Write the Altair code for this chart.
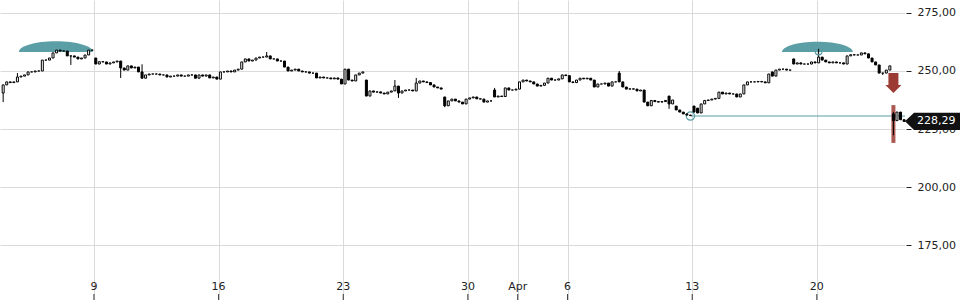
import altair as alt
import pandas as pd
from datetime import date, timedelta

# ---------------- data (hourly candles, 7 per trading day) ----------------
first_open = 240.5
closes_mar03 = [244.0, 245.3, 245.0, 245.3, 247.4, 247.8, 248.3, 249.6, 249.6, 250.0,
                250.0, 254.7, 254.7, 255.6, 257.8, 259.0, 258.6, 258.6, 256.5, 256.5,
                256.0, 255.2, 255.6, 256.9, 259.0, 259.0]
closes_mar09 = [253.0, 254.0, 253.9, 253.0, 253.5, 253.9, 254.3, 251.3, 250.4, 252.2,
                251.3, 251.7, 249.6, 246.9, 248.3, 248.7, 248.7, 248.7, 248.3, 248.3,
                247.4, 247.8, 247.8, 248.3, 247.8, 247.8, 248.3, 248.3, 246.9, 248.3,
                247.8, 248.3, 247.0, 247.4, 246.5]
closes_mar16 = [249.6, 249.6, 250.0, 249.6, 250.4, 250.8, 253.9, 255.2, 254.3, 254.7,
                255.6, 256.0, 256.0, 256.5, 255.2, 255.2, 254.3, 254.3, 251.7, 250.0,
                250.4, 250.8, 250.0, 249.6, 249.6, 249.1, 249.1, 247.0, 247.4, 247.0,
                247.0, 246.6, 247.0, 246.5, 244.4]
closes_mar23 = [250.8, 246.1, 245.7, 248.3, 249.1, 249.6, 239.2, 241.4, 240.9, 241.0,
                240.5, 240.1, 240.9, 241.4, 243.5, 240.5, 241.4, 241.8, 241.8, 241.4,
                244.8, 245.7, 245.3, 245.0, 244.0, 243.1, 242.7, 242.2, 235.0, 237.1,
                237.9, 237.1, 236.6, 235.8, 237.9]
closes_mar30 = [238.4, 238.8, 238.0, 237.9, 236.6, 237.1, 237.1, 238.8, 239.2, 239.0,
                242.7, 241.8, 241.8, 242.2, 245.3, 246.1, 245.7, 245.3, 244.4, 243.5,
                243.8, 244.8, 246.9, 246.1, 246.1, 246.6, 248.3, 248.0]
closes_apr06 = [245.3, 245.0, 246.1, 246.9, 246.6, 246.9, 246.1, 243.1, 244.4, 244.4,
                244.8, 243.5, 245.3, 245.3, 245.3, 243.1, 242.2, 242.3, 242.2, 241.4,
                241.8, 236.6, 235.0, 237.3, 236.8, 236.6, 236.8, 237.3, 235.8, 237.5,
                233.2, 232.3, 231.5, 231.0, 230.8]
closes_apr13 = [232.3, 231.9, 235.8, 237.3, 237.5, 237.9, 238.2, 240.9, 240.1, 240.5,
                240.1, 240.1, 238.8, 240.1, 244.0, 245.3, 245.3, 245.3, 245.5, 245.3,
                244.9, 248.7, 247.8, 250.4, 250.8, 250.8, 250.4, 250.4, 253.0, 253.5,
                253.0, 253.0, 253.0, 253.9, 253.5]
closes_apr20 = [256.0, 254.7, 253.9, 253.5, 253.9, 253.5, 253.5, 253.0, 256.5, 257.0,
                256.9, 256.9, 257.8, 257.4, 255.6, 253.9, 252.6, 249.1, 249.1, 250.4,
                252.2, 228.6, 232.3, 229.0, 228.29]

gap_opens = {26: 255.6, 102: 246.1, 124: 238.8, 138: 241.8, 173: 249.1, 187: 239.2,
             189: 234.9, 194: 234.9, 195: 234.0, 216: 249.6, 222: 255.2, 250: 231.5}
wick_highs = {4: 249.1, 39: 252.9, 74: 258.2, 110: 246.1, 116: 247.0, 138: 242.7,
              173: 250.0, 229: 259.9, 250: 232.3}
wick_lows = {0: 236.6, 19: 252.6, 33: 247.0, 111: 238.4, 124: 234.4, 187: 233.7,
             193: 230.6, 247: 248.3, 250: 222.3}

# annotations
dome_start = [4.4, 218.7]
dome_end = [25.2, 238.6]
dome_base = [258.2, 258.2]
support_bar = 193
support_price = 230.6
peak_bar = 229
peak_marker_price = 258.4
gap_bar = 250
gap_band_top = 235.3
gap_band_bottom = 219.0
arrow_price = 244.8

holidays = [date(2015, 4, 3)]
first_day = date(2015, 3, 3)
last_day = date(2015, 4, 23)
bars_per_day = 7
first_bar_slot = 2

# ---------------- build tables ----------------
closes = (closes_mar03 + closes_mar09 + closes_mar16 + closes_mar23 +
          closes_mar30 + closes_apr06 + closes_apr13 + closes_apr20)
n = len(closes)
opens = [first_open] + closes[:-1]
for k, v in gap_opens.items():
    opens[k] = v
highs = [max(o, c) for o, c in zip(opens, closes)]
lows = [min(o, c) for o, c in zip(opens, closes)]
for k, v in wick_highs.items():
    highs[k] = max(highs[k], v)
for k, v in wick_lows.items():
    lows[k] = min(lows[k], v)

candles = pd.DataFrame({
    "i": list(range(n)), "open": opens, "close": closes, "high": highs, "low": lows,
    "fill": ["white" if c > o else "black" for o, c in zip(opens, closes)],
})

days = []
d = first_day
while d <= last_day:
    if d.weekday() < 5 and d not in holidays:
        days.append(d)
    d += timedelta(days=1)
tick_pos, tick_lab = [], []
for k, day in enumerate(days):
    if k == 0:
        continue
    if day.weekday() == 0 or day.month != days[k - 1].month:
        tick_pos.append(k * bars_per_day - first_bar_slot - 0.5)
        tick_lab.append("Apr" if day.month != days[k - 1].month else str(day.day))
ticks = pd.DataFrame({"pos": tick_pos, "label": tick_lab})

W, H = 905, 300
PX_PER_BAR = 3.561
x_dom = [-0.89, -0.89 + W / PX_PER_BAR]
y_dom = [151.3, 280.6]
xs = alt.Scale(domain=x_dom, nice=False, zero=False, padding=0)
ys = alt.Scale(domain=y_dom, nice=False, zero=False, padding=0)

TEAL = "#5b9ea5"
RED = "#9c3a34"
FONT = "DejaVu Sans"

XAX = alt.Axis(values=tick_pos, labels=False, ticks=False, domain=False,
               grid=True, gridColor="#dadada", title=None)
YAX = alt.Axis(orient="right", values=[175, 200, 225, 250, 275],
               labelExpr="replace(format(datum.value, '.2f'), '.', ',')",
               grid=True, gridColor="#dadada", domain=False,
               tickColor="#222", tickSize=5, offset=1, labelPadding=6,
               labelFont=FONT, labelFontSize=11, labelColor="#222", title=None)


def X(field):
    return alt.X(field, scale=xs, axis=XAX)


def Y(field):
    return alt.Y(field, scale=ys, axis=YAX)


domes = pd.DataFrame({
    "c": [(a + b) / 2 for a, b in zip(dome_start, dome_end)],
    "base": dome_base,
    "sz": [((b - a) * PX_PER_BAR) ** 2 for a, b in zip(dome_start, dome_end)],
})
dome_path = "M -1 0 C -1 -0.16 -0.552 -0.29 0 -0.29 C 0.552 -0.29 1 -0.16 1 0 Z"

base = alt.Chart(candles)

dome_layer = alt.Chart(domes).mark_point(shape=dome_path, filled=True, fill=TEAL,
                                         opacity=1, strokeWidth=0).encode(
    x=X("c:Q"), y=Y("base:Q"),
    size=alt.Size("sz:Q", scale=None, legend=None),
)

sup = pd.DataFrame({"x": [support_bar], "x2": [x_dom[1]], "y": [support_price]})
sup_line = alt.Chart(sup).mark_rule(color=TEAL, strokeWidth=1).encode(
    x=X("x:Q"), x2="x2:Q", y=Y("y:Q"))
sup_circle = alt.Chart(sup).mark_point(shape="circle", size=70, filled=False,
                                       color=TEAL, strokeWidth=1.2, opacity=1).encode(
    x=X("x:Q"), y=Y("y:Q"))

peak = pd.DataFrame({"x": [peak_bar], "y": [peak_marker_price]})
peak_circle = alt.Chart(peak).mark_point(shape="circle", size=45, filled=False,
                                         color=TEAL, strokeWidth=1.2, opacity=1).encode(
    x=X("x:Q"), y=Y("y:Q"))

gap = pd.DataFrame({"x": [gap_bar], "top": [gap_band_top], "bot": [gap_band_bottom],
                    "arrow": [arrow_price]})
gap_band = alt.Chart(gap).mark_rule(color="#a2463f", strokeWidth=4, opacity=0.9).encode(
    x=X("x:Q"), y=Y("top:Q"), y2="bot:Q")
arrow_path = "M -0.5 -1 L 0.5 -1 L 0.5 0.2 L 0.8 0.2 L 0 1 L -0.8 0.2 L -0.5 0.2 Z"
gap_arrow = alt.Chart(gap).mark_point(shape=arrow_path, size=400, filled=True, fill=RED,
                                      strokeWidth=0, opacity=1).encode(
    x=X("x:Q"), y=Y("arrow:Q"))

wicks = base.mark_rule(color="black", strokeWidth=1).encode(
    x=X("i:Q"), y=Y("low:Q"), y2="high:Q")
bodies = base.mark_bar(width=2, stroke="black", strokeWidth=1).encode(
    x=X("i:Q"), y=Y("open:Q"), y2="close:Q",
    fill=alt.Fill("fill:N", scale=None))

last = pd.DataFrame({"y": [closes[-1]],
                     "txt": [f"{closes[-1]:.2f}".replace(".", ",")]})
box_path = "M 0 0 L 0.9 -0.87 L 5.5 -0.87 L 5.5 0.87 L 0.9 0.87 Z"
last_box = alt.Chart(last).mark_point(shape=box_path, size=400, filled=True,
                                      fill="#111111", strokeWidth=0, opacity=1).encode(
    x=alt.value(W), y=Y("y:Q"))
last_txt = alt.Chart(last).mark_text(align="left", baseline="middle", dx=12,
                                     color="white", font=FONT, fontSize=11).encode(
    x=alt.value(W), y=Y("y:Q"), text="txt:N")

xlabels = alt.Chart(ticks).mark_text(baseline="middle", font=FONT, fontSize=11,
                                     color="#222").encode(
    x=X("pos:Q"), y=alt.value(287), text="label:N")
xticks = alt.Chart(ticks).mark_rule(color="#333", strokeWidth=1).encode(
    x=X("pos:Q"), y=alt.value(294), y2=alt.value(300))

chart = alt.layer(
    dome_layer, sup_line, sup_circle, gap_band, wicks, bodies,
    peak_circle, gap_arrow, last_box, last_txt, xlabels, xticks,
).properties(
    width=W, height=H,
    padding={"left": 0, "top": 0, "right": 960 - W, "bottom": 0},
    autosize=alt.AutoSizeParams(type="none"),
    background="white",
).configure_view(strokeWidth=0)

chart.save("out.html", embed_options={"renderer": "svg", "actions": False})
